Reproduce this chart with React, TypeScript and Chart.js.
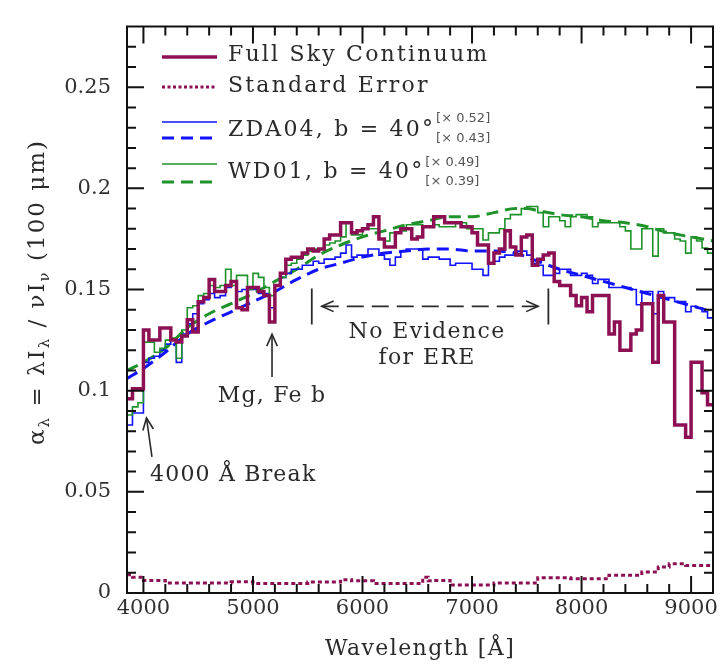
import React, { useEffect, useRef } from 'react';
import { Chart, registerables } from 'chart.js';

Chart.register(...registerables);

// ---------------- data ----------------
// 50 Å bins starting at 3850 Å
const binStart = 3850;
const binWidth = 50;

const fullSkyContinuum = [
  0.096, 0.101, 0.101, 0.130, 0.125, 0.125, 0.131, 0.131, 0.125, 0.124,
  0.127, 0.135, 0.129, 0.144, 0.146, 0.155, 0.149, 0.149, 0.152, 0.154,
  0.141, 0.140, 0.151, 0.151, 0.149, 0.147, 0.134, 0.152, 0.158, 0.165,
  0.166, 0.166, 0.168, 0.170, 0.169, 0.170, 0.175, 0.177, 0.177, 0.183,
  0.183, 0.178, 0.179, 0.180, 0.182, 0.186, 0.175, 0.171, 0.171, 0.178,
  0.180, 0.180, 0.175, 0.176, 0.181, 0.181, 0.186, 0.186, 0.183, 0.183,
  0.183, 0.181, 0.181, 0.178, 0.172, 0.172, 0.163, 0.168, 0.170, 0.179,
  0.171, 0.167, 0.176, 0.177, 0.162, 0.165, 0.167, 0.168, 0.154, 0.152,
  0.152, 0.147, 0.142, 0.146, 0.139, 0.147, 0.147, 0.147, 0.128, 0.134,
  0.120, 0.120, 0.128, 0.130, 0.143, 0.143, 0.114, 0.147, 0.134, 0.134,
  0.083, 0.083, 0.077, 0.114, 0.114, 0.099, 0.093,
];

const zda04Spectrum = [
  0.083, 0.089, 0.089, 0.114, 0.116, 0.117, 0.120, 0.123, 0.125, 0.114,
  0.128, 0.133, 0.138, 0.143, 0.145, 0.148, 0.146, 0.147, 0.151, 0.154,
  0.149, 0.150, 0.150, 0.150, 0.148, 0.148, 0.141, 0.152, 0.156, 0.158,
  0.160, 0.160, 0.162, 0.162, 0.164, 0.163, 0.165, 0.165, 0.166, 0.168,
  0.172, 0.166, 0.167, 0.167, 0.170, 0.170, 0.167, 0.165, 0.162, 0.166,
  0.169, 0.170, 0.170, 0.170, 0.165, 0.166, 0.166, 0.165, 0.165, 0.162,
  0.163, 0.163, 0.163, 0.160, 0.160, 0.157, 0.163, 0.164, 0.166, 0.167,
  0.167, 0.169, 0.169, 0.167, 0.163, 0.162, 0.157, 0.157, 0.158, 0.160,
  0.160, 0.157, 0.157, 0.158, 0.157, 0.153, 0.155, 0.155, 0.151, 0.151,
  0.151, 0.151, 0.150, 0.1425, 0.149, 0.149, 0.138, 0.149, 0.146, 0.146,
  0.144, 0.144, 0.139, 0.1417, 0.141, 0.139, 0.136,
];

const wd01Spectrum = [
  0.088, 0.092, 0.094, 0.124, 0.124, 0.119, 0.121, 0.125, 0.126, 0.116,
  0.130, 0.141, 0.142, 0.147, 0.148, 0.152, 0.151, 0.152, 0.160, 0.152,
  0.157, 0.157, 0.150, 0.158, 0.156, 0.151, 0.147, 0.152, 0.156, 0.162,
  0.163, 0.165, 0.167, 0.169, 0.170, 0.170, 0.172, 0.173, 0.174, 0.176,
  0.183, 0.177, 0.177, 0.180, 0.180, 0.180, 0.175, 0.174, 0.178, 0.178,
  0.179, 0.182, 0.182, 0.182, 0.181, 0.181, 0.182, 0.181, 0.181, 0.181,
  0.183, 0.183, 0.180, 0.180, 0.180, 0.1745, 0.178, 0.178, 0.180, 0.185,
  0.187, 0.187, 0.190, 0.191, 0.191, 0.188, 0.181, 0.186, 0.186, 0.184,
  0.181, 0.186, 0.187, 0.187, 0.186, 0.181, 0.183, 0.183, 0.183, 0.183,
  0.181, 0.179, 0.170, 0.170, 0.180, 0.180, 0.1665, 0.180, 0.178, 0.178,
  0.175, 0.174, 0.168, 0.176, 0.174, 0.1705, 0.168,
];

const modelWavelength = [
  3850, 4000, 4200, 4400, 4600, 4800, 5000, 5200, 5400, 5600,
  5800, 6000, 6200, 6400, 6600, 6800, 7000, 7200, 7400, 7500,
  7600, 7800, 8000, 8200, 8400, 8600, 8800, 9000, 9200,
];
const zda04Model = [
  0.106, 0.111, 0.119, 0.128, 0.134, 0.139, 0.144, 0.149, 0.155, 0.160,
  0.163, 0.166, 0.168, 0.169, 0.170, 0.170, 0.169, 0.169, 0.168, 0.166,
  0.164, 0.160, 0.157, 0.154, 0.151, 0.148, 0.145, 0.142, 0.139,
];
const wd01Model = [
  0.110, 0.114, 0.121, 0.131, 0.138, 0.143, 0.148, 0.154, 0.160, 0.167,
  0.172, 0.176, 0.179, 0.182, 0.184, 0.186, 0.186, 0.188, 0.190, 0.190,
  0.189, 0.187, 0.186, 0.184, 0.183, 0.181, 0.178, 0.176, 0.174,
];

const errorEdges = [
  3850, 3900, 4000, 4200, 4800, 5000, 5500, 5800, 5900, 6100,
  6550, 6600, 6650, 6800, 7200, 7600, 7900, 8250, 8550, 8700,
  8800, 8950, 9000, 9200,
];
const standardError = [
  0.009, 0.0078, 0.0062, 0.0050, 0.0055, 0.0047, 0.0054, 0.0066, 0.0060, 0.0047,
  0.0078, 0.0060, 0.0062, 0.0040, 0.0050, 0.0075, 0.0070, 0.0088, 0.0104, 0.0128,
  0.0144, 0.0136, 0.0136,
];

const xTickValues = [4000, 5000, 6000, 7000, 8000, 9000];
const yTickValues = [0, 0.05, 0.1, 0.15, 0.2, 0.25];
const xMin = 3850, xMax = 9200;
const yMin = 0, yMax = 0.28;

// ---------------- style ----------------
const MAROON = '#8c1053';
const BLUE = '#1212ff';
const GREEN = '#1f922a';
const INK = '#2a2a2a';
const SERIF = '"DejaVu Serif", serif';

const histPoints = (vals: number[]) => {
  const pts = vals.map((v, i) => ({ x: binStart + i * binWidth, y: v }));
  pts.push({ x: binStart + vals.length * binWidth, y: vals[vals.length - 1] });
  return pts;
};
const edgePoints = (edges: number[], vals: number[]) => {
  const pts = vals.map((v, i) => ({ x: edges[i], y: v }));
  pts.push({ x: edges[edges.length - 1], y: vals[vals.length - 1] });
  return pts;
};

function drawText(ctx: any, s: string, x: number, y: number, font: string, color: string, align = 'left', spacing = '0px') {
  ctx.font = font;
  ctx.fillStyle = color;
  ctx.textAlign = align;
  ctx.textBaseline = 'middle';
  ctx.letterSpacing = spacing;
  ctx.fillText(s, x, y);
  ctx.letterSpacing = '0px';
}

function drawLine(ctx: any, x1: number, y1: number, x2: number, y2: number, color: string, w: number, dash: number[] = []) {
  ctx.beginPath();
  ctx.strokeStyle = color;
  ctx.lineWidth = w;
  ctx.setLineDash(dash);
  ctx.moveTo(x1, y1);
  ctx.lineTo(x2, y2);
  ctx.stroke();
  ctx.setLineDash([]);
}

function arrowHead(ctx: any, tx: number, ty: number, fx: number, fy: number, color: string) {
  const ang = Math.atan2(ty - fy, tx - fx);
  const len = 13, half = 0.42;
  ctx.beginPath();
  ctx.strokeStyle = color;
  ctx.lineWidth = 1.6;
  ctx.setLineDash([]);
  ctx.moveTo(tx - len * Math.cos(ang - half), ty - len * Math.sin(ang - half));
  ctx.lineTo(tx, ty);
  ctx.lineTo(tx - len * Math.cos(ang + half), ty - len * Math.sin(ang + half));
  ctx.stroke();
}

const decorPlugin = {
  id: 'decor',
  afterDraw(chart: any) {
    const { ctx, chartArea: a } = chart;
    const xs = chart.scales.x;
    const ys = chart.scales.y;
    const px = (w: number) => xs.getPixelForValue(w);
    const py = (v: number) => ys.getPixelForValue(v);
    ctx.save();

    // frame and inward ticks
    ctx.strokeStyle = '#111';
    ctx.lineWidth = 2;
    ctx.setLineDash([]);
    ctx.strokeRect(a.left, a.top, a.right - a.left, a.bottom - a.top);
    ctx.beginPath();
    for (let w = 4000; w < xMax; w += 200) {
      const X = px(w);
      const L = w % 1000 === 0 ? 17 : 9;
      ctx.moveTo(X, a.bottom); ctx.lineTo(X, a.bottom - L);
      ctx.moveTo(X, a.top); ctx.lineTo(X, a.top + L);
    }
    for (let i = 1; i < 28; i++) {
      const Y = py(i / 100);
      const L = i % 5 === 0 ? 17 : 9;
      ctx.moveTo(a.left, Y); ctx.lineTo(a.left + L, Y);
      ctx.moveTo(a.right, Y); ctx.lineTo(a.right - L, Y);
    }
    ctx.stroke();

    // legend
    const lx1 = 162, lx2 = 217, tx = 228;
    const lf = `22px ${SERIF}`;
    const ls = '2.2px';
    const sf = `13px "DejaVu Sans", sans-serif`;
    drawLine(ctx, lx1, 57, lx2, 57, MAROON, 3.5);
    drawText(ctx, 'Full Sky Continuum', tx, 55, lf, INK, 'left', ls);
    drawLine(ctx, lx1, 87, lx2, 87, MAROON, 3, [3, 2.5]);
    drawText(ctx, 'Standard Error', tx, 86, lf, INK, 'left', ls);
    drawLine(ctx, lx1, 122, lx2, 122, BLUE, 1.6);
    drawLine(ctx, lx1, 138, lx2, 138, BLUE, 3, [12, 7]);
    drawText(ctx, 'ZDA04, b = 40°', tx, 130, lf, INK, 'left', ls);
    ctx.font = lf; ctx.letterSpacing = ls;
    const w1 = ctx.measureText('ZDA04, b = 40°').width;
    ctx.letterSpacing = '0px';
    drawText(ctx, '[× 0.52]', tx + w1 + 1, 119, sf, '#555');
    drawText(ctx, '[× 0.43]', tx + w1 + 1, 139, sf, '#555');
    drawLine(ctx, lx1, 164, lx2, 164, GREEN, 1.6);
    drawLine(ctx, lx1, 182, lx2, 182, GREEN, 3, [12, 7]);
    drawText(ctx, 'WD01, b = 40°', tx, 172, lf, INK, 'left', ls);
    ctx.font = lf; ctx.letterSpacing = ls;
    const w2 = ctx.measureText('WD01, b = 40°').width;
    ctx.letterSpacing = '0px';
    drawText(ctx, '[× 0.49]', tx + w2 + 1, 163, sf, '#555');
    drawText(ctx, '[× 0.39]', tx + w2 + 1, 182, sf, '#555');

    // annotations
    const af = `22px ${SERIF}`;
    // 4000 Å break
    const b0x = px(4078), b0y = py(0.0673), b1x = px(4028), b1y = py(0.0865);
    drawLine(ctx, b0x, b0y, b1x, b1y, INK, 1.6);
    arrowHead(ctx, b1x, b1y, b0x, b0y, INK);
    drawText(ctx, '4000 Å Break', px(4060), py(0.0582), af, INK, 'left', '1.2px');
    // Mg, Fe b
    const mgx = px(5174);
    drawLine(ctx, mgx, py(0.1067), mgx, py(0.1279), INK, 1.6);
    arrowHead(ctx, mgx, py(0.1279), mgx, py(0.1067), INK);
    drawText(ctx, 'Mg, Fe b', mgx, py(0.0971), af, INK, 'center', '1.2px');
    // No evidence for ERE
    const ey = py(0.1417);
    drawLine(ctx, px(5537), py(0.1327), px(5537), py(0.1505), INK, 1.8);
    drawLine(ctx, px(7697), py(0.1327), px(7697), py(0.1505), INK, 1.8);
    drawLine(ctx, px(5628), ey, px(7603), ey, INK, 1.8, [17, 8]);
    arrowHead(ctx, px(5628), ey, px(5800), ey, INK);
    arrowHead(ctx, px(7603), ey, px(7400), ey, INK);
    drawText(ctx, 'No Evidence', px(6590), py(0.1288), af, INK, 'center', '1.4px');
    drawText(ctx, 'for ERE', px(6590), py(0.1159), af, INK, 'center', '1.4px');

    // x title
    drawText(ctx, 'Wavelength [Å]', (a.left + a.right) / 2, 649, af, INK, 'center', '1.4px');

    // y title (rotated, with subscripts)
    const main = `23px ${SERIF}`;
    const sub = `15px ${SERIF}`;
    const parts: [string, boolean][] = [
      ['α', false], ['λ', true], [' = λI', false], ['λ', true], [' / νI', false], ['ν', true], [' (100 μm)', false],
    ];
    ctx.save();
    ctx.translate(37, 292);
    ctx.rotate(-Math.PI / 2);
    ctx.letterSpacing = '2px';
    let total = 0;
    for (const [s, isSub] of parts) { ctx.font = isSub ? sub : main; total += ctx.measureText(s).width; }
    let cx = -total / 2;
    ctx.fillStyle = INK;
    ctx.textAlign = 'left';
    ctx.textBaseline = 'alphabetic';
    for (const [s, isSub] of parts) {
      ctx.font = isSub ? sub : main;
      ctx.fillText(s, cx, isSub ? 12 : 7);
      cx += ctx.measureText(s).width;
    }
    ctx.letterSpacing = '0px';
    ctx.restore();

    ctx.restore();
  },
};

export default function App() {
  const ref = useRef<HTMLCanvasElement | null>(null);

  useEffect(() => {
    const canvas = ref.current;
    if (!canvas) return;
    const common = { pointRadius: 0, fill: false, borderJoinStyle: 'miter', borderCapStyle: 'butt' };
    const chart = new Chart(canvas, {
      type: 'line',
      data: {
        datasets: [
          { ...common, label: 'Full Sky Continuum', data: histPoints(fullSkyContinuum), borderColor: MAROON, borderWidth: 3.5, stepped: 'before', order: 0 },
          { ...common, label: 'Standard Error', data: edgePoints(errorEdges, standardError), borderColor: MAROON, borderWidth: 3, borderDash: [4, 3], stepped: 'before', order: 1 },
          { ...common, label: 'WD01, b = 40°', data: histPoints(wd01Spectrum), borderColor: GREEN, borderWidth: 1.6, stepped: 'before', order: 2 },
          { ...common, label: 'ZDA04, b = 40°', data: histPoints(zda04Spectrum), borderColor: BLUE, borderWidth: 1.6, stepped: 'before', order: 3 },
          { ...common, label: 'WD01 model', data: modelWavelength.map((w, i) => ({ x: w, y: wd01Model[i] })), borderColor: GREEN, borderWidth: 3, borderDash: [12, 7], cubicInterpolationMode: 'monotone', order: 4 },
          { ...common, label: 'ZDA04 model', data: modelWavelength.map((w, i) => ({ x: w, y: zda04Model[i] })), borderColor: BLUE, borderWidth: 3, borderDash: [12, 7], cubicInterpolationMode: 'monotone', order: 5 },
        ],
      } as any,
      options: {
        responsive: false,
        maintainAspectRatio: false,
        animation: false,
        devicePixelRatio: 1,
        layout: { padding: { top: 11, right: 14, left: 0, bottom: 0 } },
        plugins: { legend: { display: false }, tooltip: { enabled: false } },
        scales: {
          x: {
            type: 'linear',
            min: xMin,
            max: xMax,
            grid: { display: false, drawTicks: false },
            border: { display: false },
            afterBuildTicks: (s: any) => { s.ticks = xTickValues.map((v) => ({ value: v })); },
            ticks: {
              padding: 3,
              maxRotation: 0,
              autoSkip: false,
              color: '#303030',
              font: { family: 'DejaVu Serif', size: 21, lineHeight: 1.2 },
              callback: (v: any) => String(v),
            },
            afterFit: (s: any) => { s.height = 71; },
          },
          y: {
            type: 'linear',
            min: yMin,
            max: yMax,
            grid: { display: false, drawTicks: false },
            border: { display: false },
            afterBuildTicks: (s: any) => { s.ticks = yTickValues.map((v) => ({ value: v })); },
            ticks: {
              padding: 16,
              autoSkip: false,
              color: '#303030',
              font: { family: 'DejaVu Serif', size: 21, lineHeight: 1 },
              callback: (v: any) => String(+Number(v).toFixed(2)),
            },
            afterFit: (s: any) => { s.width = 127; },
          },
        },
      } as any,
      plugins: [decorPlugin],
    });
    return () => chart.destroy();
  }, []);

  return (
    <div style={{ position: 'absolute', left: 0, top: 0, width: 727, height: 664, background: '#fff' }}>
      <canvas ref={ref} width={727} height={664} style={{ display: 'block' }} />
    </div>
  );
}
